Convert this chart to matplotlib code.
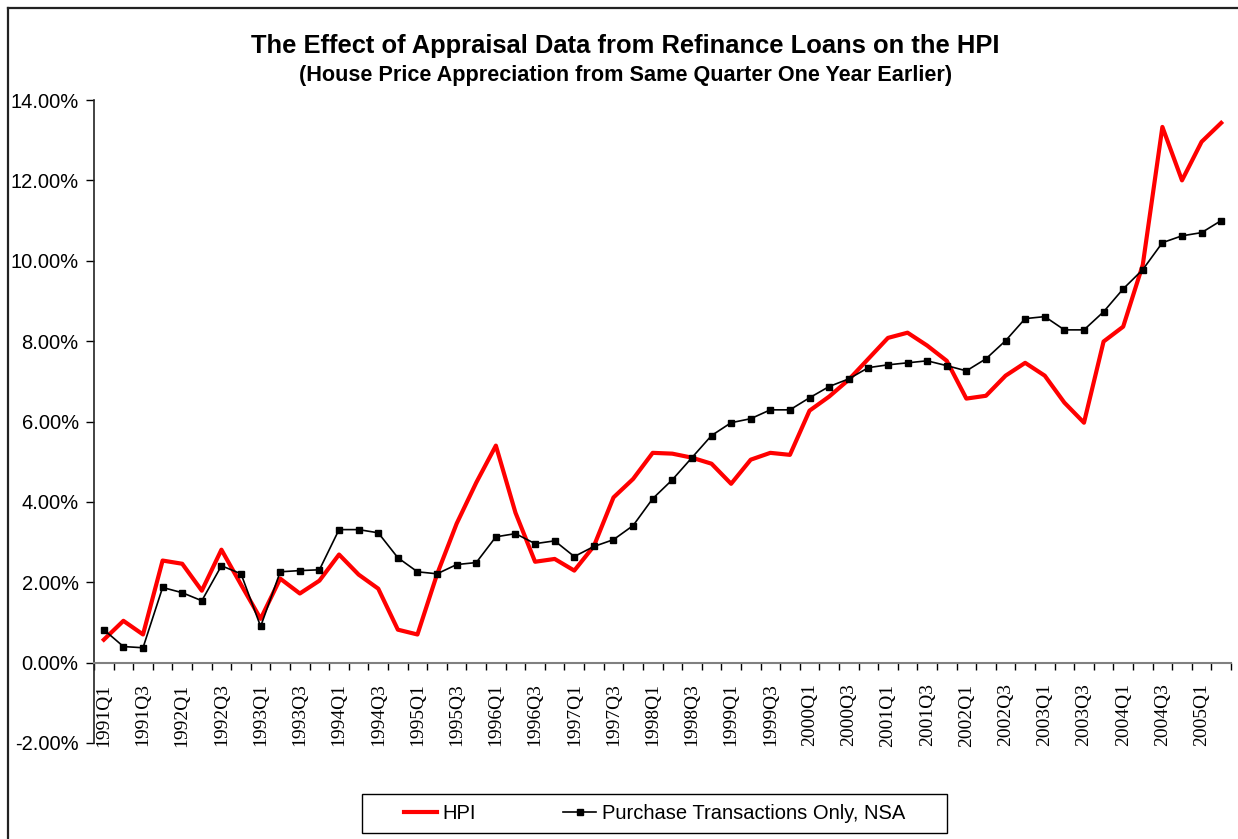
import matplotlib
matplotlib.use('Agg')
import matplotlib.pyplot as plt
import matplotlib.ticker as ticker
from matplotlib.lines import Line2D
from matplotlib.patches import Rectangle

# quarters 1991Q1 .. 2005Q2
quarters = [f"{y}Q{q}" for y in range(1991, 2006) for q in range(1, 5)][:58]

# year-over-year appreciation, percent
hpi = [0.57, 1.04, 0.70, 2.54, 2.46, 1.79, 2.81, 1.94, 1.09, 2.09,
       1.72, 2.04, 2.69, 2.19, 1.84, 0.82, 0.70, 2.20, 3.46, 4.48,
       5.40, 3.73, 2.51, 2.58, 2.29, 2.90, 4.11, 4.57, 5.22, 5.20,
       5.10, 4.95, 4.45, 5.05, 5.22, 5.17, 6.27, 6.62, 7.04, 7.56,
       8.08, 8.21, 7.89, 7.51, 6.57, 6.64, 7.14, 7.46, 7.14, 6.47,
       5.97, 7.99, 8.36, 9.90, 13.33, 12.00, 12.96, 13.43]

purchase = [0.82, 0.40, 0.37, 1.87, 1.74, 1.54, 2.41, 2.21, 0.90, 2.26,
            2.29, 2.31, 3.31, 3.31, 3.23, 2.61, 2.26, 2.21, 2.44, 2.49,
            3.13, 3.21, 2.96, 3.03, 2.64, 2.89, 3.06, 3.41, 4.08, 4.55,
            5.10, 5.65, 5.97, 6.07, 6.29, 6.29, 6.59, 6.87, 7.06, 7.34,
            7.41, 7.46, 7.51, 7.39, 7.26, 7.56, 8.01, 8.56, 8.61, 8.28,
            8.28, 8.73, 9.30, 9.78, 10.45, 10.62, 10.70, 11.00]

title = "The Effect of Appraisal Data from Refinance Loans on the HPI"
subtitle = "(House Price Appreciation from Same Quarter One Year Earlier)"

plt.rcParams['font.family'] = ['Liberation Sans', 'DejaVu Sans']

W, H = 1238, 839
fig = plt.figure(figsize=(W / 100, H / 100), dpi=100)
ax = fig.add_axes([94 / W, 1 - 743 / H, (1231 - 94) / W, (743 - 100) / H])

x = list(range(len(quarters)))
ax.plot(x, hpi, color='#ff0000', linewidth=3.0, label='HPI', zorder=3)
ax.plot(x, purchase, color='black', linewidth=1.2, marker='s', markersize=5,
        label='Purchase Transactions Only, NSA', zorder=4)

ax.set_xlim(-0.5, len(quarters) - 0.5)
ax.set_ylim(-2, 14)

# y axis
ax.set_yticks(range(-2, 15, 2))
ax.yaxis.set_major_formatter(ticker.FuncFormatter(lambda v, p: f"{v:.2f}%"))
ax.tick_params(axis='y', direction='out', length=6, width=1, colors='black',
               labelsize=14.5, pad=5)
ax.spines['left'].set_color('#222222')
ax.spines['left'].set_linewidth(1.2)
ax.spines['top'].set_visible(False)
ax.spines['right'].set_visible(False)

# category axis crossing at zero
ax.spines['bottom'].set_position(('data', 0))
ax.spines['bottom'].set_color('#808080')
ax.spines['bottom'].set_linewidth(1.5)
ax.set_xticks(x[::2])
ax.set_xticklabels(quarters[::2], rotation=90, family='Liberation Serif', fontsize=14,
                   va='top')
ax.set_xticks([i - 0.5 for i in range(len(quarters) + 1)], minor=True)
ax.tick_params(axis='x', which='major', length=0, pad=15)
ax.tick_params(axis='x', which='minor', direction='out', length=5, width=1, color='black')

# titles
fig.text(0.505, 0.945, title, ha='center', va='center', fontsize=18.4, fontweight='bold')
fig.text(0.505, 0.910, subtitle, ha='center', va='center', fontsize=15.6, fontweight='bold')

# legend (frame drawn separately for the wider Excel-style box)
leg = fig.legend(loc='center', bbox_to_anchor=(0.5287, 0.0304), ncol=2, fontsize=14.5,
                 frameon=False, handlelength=1.65, columnspacing=4.3,
                 borderpad=0.4, handletextpad=0.3)
for h in leg.legend_handles:
    if h.get_marker() == 's':
        h.set_markersize(4)
fig.add_artist(Rectangle((362 / W, 1 - 833 / H), (947 - 362) / W, (833 - 794) / H,
                         transform=fig.transFigure, facecolor='none',
                         edgecolor='black', linewidth=1.0))

# chart area border (top and left)
fig.add_artist(Line2D([8 / W, 8 / W], [0, 1 - 8 / H], color='#222222', linewidth=1.6,
                      transform=fig.transFigure))
fig.add_artist(Line2D([8 / W, 1], [1 - 8 / H, 1 - 8 / H], color='#222222', linewidth=1.6,
                      transform=fig.transFigure))

plt.savefig('out.png', dpi=100, facecolor='white')
